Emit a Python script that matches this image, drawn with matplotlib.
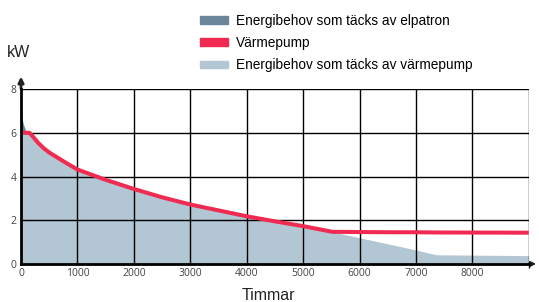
import numpy as np
import matplotlib.pyplot as plt
from matplotlib.patches import Patch

hours = [0, 40, 90, 150, 220, 300, 400, 500, 750, 1000, 1500, 2000, 2500, 3000, 3500,
         4000, 4500, 5000, 5520, 6000, 6500, 7000, 7360, 9000]
demand = [6.9, 6.4, 6.05, 5.95, 5.75, 5.55, 5.3, 5.1, 4.7, 4.32, 3.85, 3.43, 3.05, 2.72, 2.45,
          2.18, 1.95, 1.73, 1.47, 1.2, 0.92, 0.64, 0.42, 0.38]
heatpump = [6.0, 6.0, 6.0, 6.0, 5.8, 5.55, 5.3, 5.1, 4.7, 4.32, 3.85, 3.43, 3.05, 2.72, 2.45,
            2.18, 1.95, 1.73, 1.47, 1.46, 1.45, 1.45, 1.44, 1.43]

x_ticks = [0, 1000, 2000, 3000, 4000, 5000, 6000, 7000, 8000]
y_ticks = [0, 2, 4, 6, 8]

labels = ["Energibehov som täcks av elpatron", "Värmepump",
          "Energibehov som täcks av värmepump"]
c_dark = "#6b859a"
c_red = "#f02a50"
c_light = "#b3c6d3"

h = np.array(hours)
d = np.array(demand)
hp = np.array(heatpump)

fig = plt.figure(figsize=(5.39, 3.02), dpi=100)
ax = fig.add_axes([0.039, 0.126, 0.942, 0.579])

ax.fill_between(h, 0, np.minimum(d, hp), color=c_light, lw=0, zorder=1)
ax.fill_between(h, hp, d, where=d > hp, interpolate=True, color=c_dark, lw=0, zorder=1)
ax.plot(h, hp, color=c_red, lw=2.9, zorder=4, solid_capstyle="butt", solid_joinstyle="round")

for xv in x_ticks[1:] + [9000]:
    ax.axvline(xv, color="black", lw=1.0, zorder=2)
for yv in y_ticks[1:]:
    ax.axhline(yv, color="black", lw=1.0, zorder=2)

ax.set_xlim(0, 9000)
ax.set_ylim(0, 8)
for s in ["top", "right"]:
    ax.spines[s].set_visible(False)
for s in ["left", "bottom"]:
    ax.spines[s].set_linewidth(2.0)
    ax.spines[s].set_zorder(5)

ax.set_xticks(x_ticks)
ax.set_yticks(y_ticks)
ax.tick_params(length=0, labelsize=7.5, labelcolor="#444444", pad=3)
for t in ax.get_xticklabels() + ax.get_yticklabels():
    t.set_fontfamily("Open Sans")
ax.set_xticks([0, 9000], minor=True)
ax.tick_params(which="minor", length=3, width=1.0, color="black")

# arrows at axis ends
ax.annotate("", xy=(0, 8.7), xytext=(0, 7.9), xycoords="data",
            arrowprops=dict(arrowstyle="-|>", color="#222222", lw=2.0,
                            mutation_scale=8), annotation_clip=False)
ax.annotate("", xy=(9180, 0), xytext=(8950, 0), xycoords="data",
            arrowprops=dict(arrowstyle="-|>", color="#222222", lw=1.5,
                            mutation_scale=7), annotation_clip=False)

fig.text(0.013, 0.81, "kW", fontsize=11.5, family="Liberation Sans", color="#222222")
fig.text(0.449, 0.005, "Timmar", fontsize=11.5, family="Liberation Sans", color="#222222")

handles = [Patch(color=c_dark), Patch(color=c_red), Patch(color=c_light)]
leg = fig.legend(handles, labels, loc="upper left", bbox_to_anchor=(0.349, 0.995),
                 frameon=False, prop={"family": "Liberation Sans", "size": 9.8},
                 handlelength=2.0, handleheight=0.45, labelspacing=0.6,
                 handletextpad=0.65)

fig.savefig("out.png", dpi=100)
